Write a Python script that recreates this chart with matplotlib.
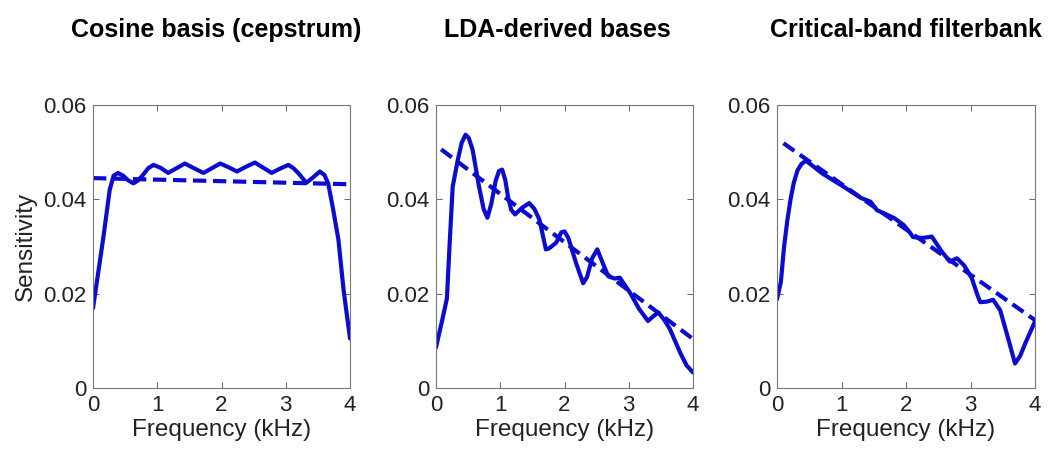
import matplotlib
matplotlib.use("Agg")
import matplotlib.pyplot as plt

# ---------------- data ----------------
titles = ["Cosine basis (cepstrum)", "LDA-derived bases", "Critical-band filterbank"]

cos_x = [0.0, 0.16, 0.26, 0.32, 0.39, 0.47, 0.55, 0.63, 0.70, 0.78, 0.86, 0.94,
         1.05, 1.17, 1.30, 1.43, 1.57, 1.72, 1.85, 1.98, 2.11, 2.24, 2.38, 2.52,
         2.65, 2.78, 2.91, 3.04, 3.12, 3.20, 3.32, 3.43, 3.53, 3.60, 3.66, 3.74,
         3.82, 3.90, 4.0]
cos_y = [0.0169, 0.0318, 0.0420, 0.0450, 0.0456, 0.0450, 0.0440, 0.0434, 0.0440,
         0.0452, 0.0466, 0.0473, 0.0467, 0.0456, 0.0466, 0.0476, 0.0466, 0.0456,
         0.0466, 0.0476, 0.0468, 0.0459, 0.0469, 0.0478, 0.0467, 0.0456, 0.0465,
         0.0473, 0.0466, 0.0455, 0.0435, 0.0447, 0.0459, 0.0452, 0.0434, 0.0377,
         0.0314, 0.0208, 0.0105]
cos_fit_x = [0.0, 4.0]
cos_fit_y = [0.0445, 0.0432]

lda_x = [0.0, 0.10, 0.17, 0.21, 0.26, 0.34, 0.40, 0.46, 0.51, 0.57, 0.67, 0.74,
         0.80, 0.86, 0.93, 0.98, 1.03, 1.08, 1.12, 1.17, 1.23, 1.34, 1.45, 1.53,
         1.61, 1.71, 1.76, 1.87, 1.95, 2.00, 2.06, 2.18, 2.29, 2.35, 2.43, 2.51,
         2.58, 2.68, 2.78, 2.86, 3.02, 3.16, 3.30, 3.38, 3.46, 3.55, 3.64, 3.80,
         3.90, 4.0]
lda_y = [0.0086, 0.0146, 0.0190, 0.0300, 0.0427, 0.0484, 0.0520, 0.0537, 0.0530,
         0.0505, 0.0427, 0.0380, 0.0361, 0.0390, 0.0440, 0.0460, 0.0463, 0.0440,
         0.0406, 0.0378, 0.0368, 0.0382, 0.0392, 0.0380, 0.0357, 0.0294, 0.0296,
         0.0308, 0.0330, 0.0332, 0.0318, 0.0265, 0.0222, 0.0235, 0.0275, 0.0294,
         0.0270, 0.0237, 0.0232, 0.0234, 0.0202, 0.0168, 0.0142, 0.0152, 0.0160,
         0.0145, 0.0125, 0.0075, 0.0048, 0.0033]
lda_fit_x = [0.08, 4.0]
lda_fit_y = [0.0506, 0.0104]

cb_x = [0.0, 0.06, 0.11, 0.16, 0.21, 0.26, 0.32, 0.38, 0.45, 0.70, 1.03, 1.30,
        1.45, 1.55, 1.71, 1.82, 1.96, 2.03, 2.11, 2.25, 2.40, 2.55, 2.68, 2.79,
        2.90, 3.02, 3.10, 3.15, 3.25, 3.35, 3.46, 3.59, 3.69, 3.77, 3.85, 4.0]
cb_y = [0.0188, 0.0225, 0.0300, 0.0355, 0.0400, 0.0435, 0.0462, 0.0475, 0.0482,
        0.0455, 0.0427, 0.0403, 0.0395, 0.0377, 0.0367, 0.0360, 0.0346, 0.0335,
        0.0320, 0.0318, 0.0321, 0.0290, 0.0268, 0.0275, 0.0260, 0.0233, 0.0200,
        0.0182, 0.0183, 0.0187, 0.0165, 0.0102, 0.0052, 0.0068, 0.0095, 0.0141]
cb_fit_x = [0.10, 4.0]
cb_fit_y = [0.0519, 0.0144]

xticks = [0, 1, 2, 3, 4]
yticks = [0, 0.02, 0.04, 0.06]
ytick_labels = ["0", "0.02", "0.04", "0.06"]

# ---------------- style ----------------
plt.rcParams['font.family'] = ['Liberation Sans', 'DejaVu Sans']
BLUE = '#0b0bd2'
W, H = 1055, 462
fig = plt.figure(figsize=(W / 100, H / 100), dpi=100)

panels = [(cos_x, cos_y, cos_fit_x, cos_fit_y, 93, 350),
          (lda_x, lda_y, lda_fit_x, lda_fit_y, 436, 693),
          (cb_x, cb_y, cb_fit_x, cb_fit_y, 777, 1035)]
top, bot = 105, 388
title_cx = [216, 557, 906]

for i, (sx, sy, fx, fy, l, r) in enumerate(panels):
    ax = fig.add_axes([l / W, 1 - bot / H, (r - l) / W, (bot - top) / H])
    ax.plot(sx, sy, color=BLUE, lw=3.0, solid_joinstyle='round', solid_capstyle='round')
    ax.plot(fx, fy, color=BLUE, lw=3.0, dashes=(3.2, 1.6))
    ax.set_xlim(0, 4)
    ax.set_ylim(0, 0.06)
    ax.set_xticks(xticks)
    ax.set_xticklabels([str(t) for t in xticks])
    ax.set_yticks(yticks)
    ax.set_yticklabels(ytick_labels)
    ax.tick_params(direction='in', length=4, width=0.7, top=True, right=True,
                   labelsize=16, colors='#666666', labelcolor='#222222', pad=5)
    for s in ax.spines.values():
        s.set_color('#777777')
        s.set_linewidth(0.8)
    ax.set_xlabel("Frequency (kHz)", fontsize=17.5, color='#222222', labelpad=2)
    if i == 0:
        ax.set_ylabel("Sensitivity", fontsize=17.5, color='#222222', labelpad=4)
    fig.text(title_cx[i] / W, 1 - 30 / H, titles[i], ha='center', va='center',
             fontsize=18, fontweight='bold', color='black')

fig.savefig("out.png", dpi=100, facecolor='white')
